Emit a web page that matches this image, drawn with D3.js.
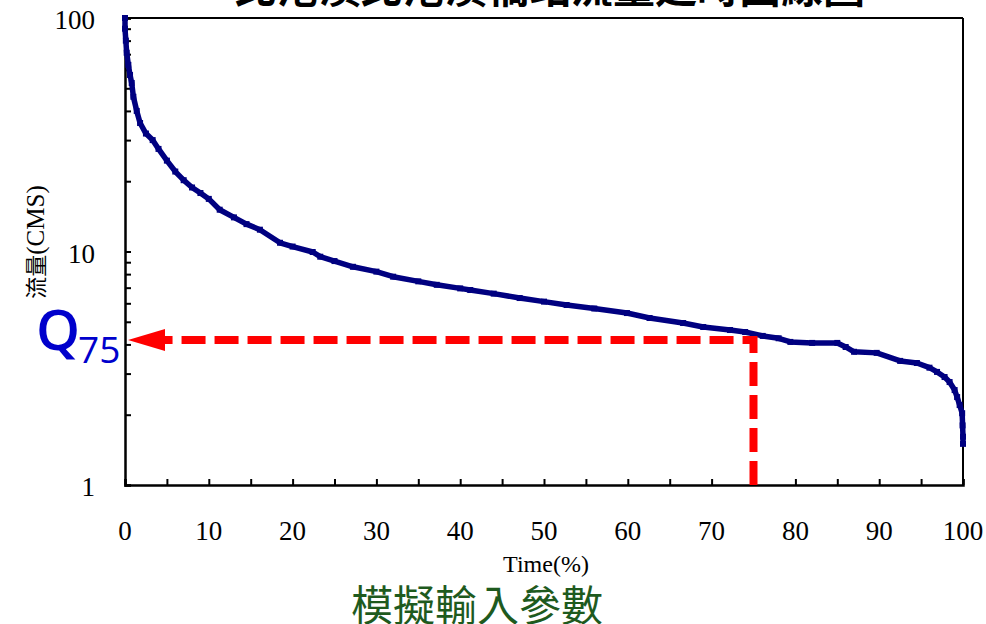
<!DOCTYPE html>
<html><head><meta charset="utf-8">
<script src="https://cdn.jsdelivr.net/npm/d3@7/dist/d3.min.js"></script>
<style>
html,body{margin:0;padding:0;background:#fff;overflow:hidden;}
svg{display:block;}
</style></head>
<body>
<svg id="c" width="986" height="624"></svg>
<script>
// ---- data ----
const titleText = "北港溪北港溪橋站流量延時曲線圖";
const xLabel = "Time(%)";
const yLabelCjk = "流量";
const yLabelLatin = "(CMS)";
const noteText = "模擬輸入參數";
const xTicks = [0,10,20,30,40,50,60,70,80,90,100];
const yTickLabels = [1,10,100];
const timePct = [0,0,0.1,0.2,0.4,0.6,0.8,1.0,1.4,1.8,2.5,3.3,4.0,5.0,6.0,7.0,8.0,9.0,10.0,11.3,13,14.5,16.1,18.5,20,22.4,23.3,25,27.2,30,32,35,37.2,40,41.2,44,47.1,50,52.7,56,59.9,62.6,66.6,69,72.2,74,76.1,78,79.4,82,85,86,87,89.7,92.5,94.5,96,96.9,97.8,98.4,99.0,99.3,99.6,99.9,99.95,100,100];
const flowCms = [100,90,80,71,63,57,52.7,46,40,35.5,32,30,27.5,24.5,22,20.2,18.8,17.8,16.8,15.1,14,13.1,12.4,10.9,10.5,9.95,9.5,9.1,8.6,8.2,7.8,7.45,7.2,6.95,6.84,6.6,6.32,6.1,5.9,5.7,5.45,5.19,4.94,4.75,4.61,4.52,4.35,4.25,4.10,4.06,4.06,3.9,3.72,3.68,3.40,3.33,3.18,3.05,2.9,2.76,2.55,2.38,2.2,2.03,1.8,1.61,1.5];
const q75Time = 75;
const q75Flow = 4.18;

// ---- layout ----
const svg = d3.select("#c");
const L = 125, R = 963, T = 18, B = 485;
const x = d3.scaleLinear().domain([0,100]).range([L,R]);
const y = d3.scaleLog().domain([1,100]).range([B,T]);
const serif = "'Liberation Serif','Times New Roman',serif";

// title (cut off at top)
svg.append("text").attr("x",550).attr("y",3).attr("text-anchor","middle")
  .attr("font-family","'Noto Sans CJK TC',sans-serif").attr("font-size",42).attr("font-weight","bold")
  .attr("fill","#000").text(titleText);

// frame top/right
svg.append("line").attr("x1",L).attr("x2",R).attr("y1",T).attr("y2",T).attr("stroke","#000").attr("stroke-width",2);
svg.append("line").attr("x1",R).attr("x2",R).attr("y1",T).attr("y2",B).attr("stroke","#000").attr("stroke-width",2);

// x axis
const xAxis = d3.axisBottom(x).tickValues(d3.range(0,101,5)).tickSize(-6).tickFormat("");
const gx = svg.append("g").attr("transform",`translate(0,${B})`).call(xAxis);
gx.select(".domain").attr("stroke","#000").attr("stroke-width",2.5);
gx.selectAll(".tick line").attr("stroke","#000").attr("stroke-width",2);
svg.append("g").selectAll("text").data(xTicks).join("text")
  .attr("x",d=>x(d)).attr("y",540).attr("text-anchor","middle")
  .attr("font-family",serif).attr("font-size",27).attr("fill","#000").text(d=>d);

// y axis
const yAxis = d3.axisLeft(y).tickSize(-6).tickFormat("");
const gy = svg.append("g").attr("transform",`translate(${L},0)`).call(yAxis);
gy.select(".domain").attr("stroke","#000").attr("stroke-width",2.5);
gy.selectAll(".tick line").attr("stroke","#000").attr("stroke-width",2);
svg.append("g").selectAll("text").data(yTickLabels).join("text")
  .attr("x",95).attr("y",d=>y(d)+11).attr("text-anchor","end")
  .attr("font-family",serif).attr("font-size",27).attr("fill","#000").text(d=>d);

// axis titles
svg.append("text").attr("x",546).attr("y",572).attr("text-anchor","middle")
  .attr("font-family",serif).attr("font-size",24).attr("fill","#000").text(xLabel);
const yt = svg.append("text").attr("transform","translate(44,242) rotate(-90)").attr("text-anchor","middle")
  .attr("font-family",serif).attr("fill","#000");
yt.append("tspan").attr("font-family","'Noto Sans CJK TC',sans-serif").attr("font-size",22).attr("fill","#000").text(yLabelCjk);
yt.append("tspan").attr("font-size",25).attr("fill","#000").text(yLabelLatin);

// data curve
const line = d3.line().x((d,i)=>x(timePct[i])).y(d=>y(d));
svg.append("path").attr("d",line(flowCms)).attr("fill","none")
  .attr("stroke","#000080").attr("stroke-width",5.5).attr("stroke-linejoin","round");
svg.append("g").selectAll("rect").data(flowCms).join("rect")
  .attr("x",(d,i)=>x(timePct[i])-3).attr("y",d=>y(d)-3).attr("width",6).attr("height",6)
  .attr("fill","#000080");

// Q75 dashed guide with arrow
const qx = x(q75Time), qy = y(q75Flow);
svg.append("path").attr("d",`M${qx},${B} V${qy} H${L+40}`).attr("fill","none")
  .attr("stroke","#ff0000").attr("stroke-width",8).attr("stroke-dasharray","24 9");
svg.append("path").attr("d",`M${L+3},${qy} L${L+40},${qy-11} L${L+40},${qy+11} Z`).attr("fill","#ff0000");

// Q75 label
const qt = svg.append("text").attr("x",36).attr("y",qy+10)
  .attr("font-family","'Open Sans',sans-serif").attr("font-weight",600).attr("fill","#0000cc");
qt.append("tspan").attr("font-size",56).text("Q");
qt.append("tspan").attr("font-size",37).attr("font-weight",400).attr("dy",13).attr("dx",-2).text("75");

// bottom note
svg.append("text").attr("x",477).attr("y",621).attr("text-anchor","middle")
  .attr("font-family","'Noto Sans CJK TC',serif").attr("font-size",42).attr("fill","#1e5a1e").text(noteText);
</script>
</body></html>
